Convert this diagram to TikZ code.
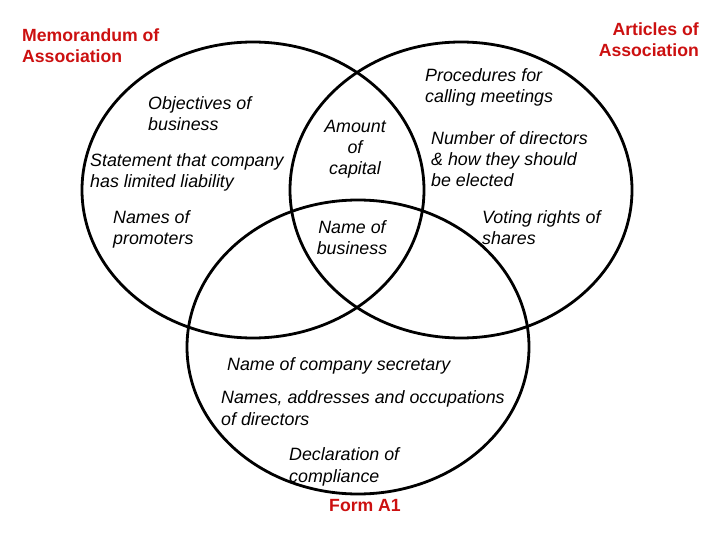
\documentclass[tikz,border=0pt]{standalone}
\usepackage{fontspec}
\setmainfont{Liberation Sans}
\definecolor{titlered}{RGB}{204,16,16}

\begin{document}
\begin{tikzpicture}[
      x = 1bp, y = -1bp,
      venn/.style={
        line width = 2.8bp,
      },
      item/.style={
        font = \fontsize{17.9}{21.5}\selectfont\itshape,
        inner sep = 0pt,
        align = left,
        anchor = base west,
      },
      mid/.style={
        item,
        align = center,
        anchor = base,
      },
      doc/.style={
        text = titlered,
        font = \fontsize{17.7}{21.5}\selectfont\bfseries,
        inner sep = 0pt,
        anchor = base west,
        align = left,
      },
    ]
    \useasboundingbox (0,0) rectangle (720,540);

    % the three documents
    \draw[venn] (253,190) ellipse [x radius=171bp, y radius=148bp];
    \draw[venn] (461,190) ellipse [x radius=171bp, y radius=148bp];
    \draw[venn] (358,347) ellipse [x radius=171bp, y radius=147bp];

    % (base of multi-line nodes is their last line)
    \node[doc] (memo) at (22,63) {Memorandum of\\Association};
    \node[doc, align = right, anchor = base east] (articles) at (699,57)
      {Articles of\\Association};
    \node[doc, anchor = base] (forma) at (365,511) {Form A1};

    % memorandum only
    \node[item] (objectives) at (148,131) {Objectives of\\business};
    \node[item] (liability) at (90,188) {Statement that company\\has limited liability};
    \node[item] (promoters) at (113,245) {Names of\\promoters};

    % shared
    \node[mid] (capital) at (355,175) {Amount\\of\\capital};
    \node[mid] (busname) at (352,255) {Name of\\business};

    % articles only
    \node[item] (meetings) at (425,103) {Procedures for\\calling meetings};
    \node[item] (directors) at (431,187) {Number of directors\\\& how they should\\be elected};
    \node[item] (voting) at (482,245) {Voting rights of\\shares};

    % form A1 only
    \node[item] (secretary) at (227,370) {Name of company secretary};
    \node[item] (addresses) at (221,425) {Names, addresses and occupations\\of directors};
    \node[item] (compliance) at (289,482) {Declaration of\\compliance};
  \end{tikzpicture}
\end{document}
